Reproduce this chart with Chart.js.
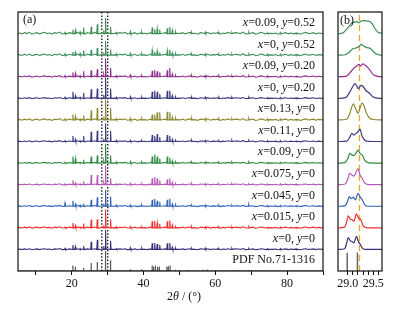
<!DOCTYPE html>
<html>
<head>
<meta charset="utf-8">
<script src="https://cdn.jsdelivr.net/npm/chart.js@4.4.1/dist/chart.umd.min.js"></script>
<style>
html, body { margin: 0; padding: 0; background: #fff; }
#wrap { position: relative; width: 395px; height: 309px; }
#boxA { position: absolute; left: 0; top: 0; width: 330px; height: 309px; }
#boxB { position: absolute; left: 330px; top: 0; width: 65px; height: 309px; }
</style>
</head>
<body>
<div id="wrap">
  <div id="boxA"><canvas id="graphA"></canvas></div>
  <div id="boxB"><canvas id="graphB"></canvas></div>
</div>
<script>
// rows from bottom (0 = PDF card) to top
var rowLabels = ['PDF No.71-1316', 'x=0, y=0', 'x=0.015, y=0', 'x=0.045, y=0', 'x=0.075, y=0', 'x=0.09, y=0',
  'x=0.11, y=0', 'x=0.13, y=0', 'x=0, y=0.20', 'x=0.09, y=0.20', 'x=0, y=0.52', 'x=0.09, y=0.52'];
var rowColors = ['#555555', '#36307a', '#ee3030', '#2f62b8', '#b45ab8', '#2f8a40',
  '#3d3c83', '#8c8a32', '#3b3a7e', '#8e2c8e', '#3a8f5e', '#3f8f55'];

// panel (a): peak positions (2theta) and heights per row (1 = row spacing)
var peakPos = [18.1, 20.3, 21.0, 22.3, 23.3, 25.4, 27.1, 28.9, 29.4, 30.8, 32.4, 36.3, 39.5, 42.4, 43.1,
  43.8, 44.5, 46.6, 47.3, 48.0, 48.9, 53.4, 57.2, 61.0, 64.6, 69.3, 74.5, 78.1, 82.5];
var h1  = [0.05,0.2,0.12,0.04,0.15,0.35,0.45,0.15,0.9,0.4,0.04,0.08,0.06,0.28,0.3,0.25,0.2,0.28,0.3,0.1,0.06,0.05,0.06,0.04,0.05,0.04,0.03,0.04,0.03];
var h2  = [0.04,0.22,0.1,0.04,0.2,0.38,0.4,0.12,0.85,0.4,0.05,0.06,0.05,0.3,0.32,0.22,0.18,0.3,0.35,0.12,0.05,0.06,0.05,0.04,0.05,0.05,0.03,0.04,0.03];
var h3  = [0.15,0.25,0.1,0.05,0.12,0.3,0.42,0.12,0.75,0.45,0.05,0.06,0.06,0.3,0.35,0.25,0.2,0.3,0.35,0.1,0.06,0.05,0.06,0.05,0.05,0.08,0.04,0.04,0.03];
var h4  = [0.04,0.2,0.08,0.04,0.15,0.45,0.45,0.1,0.9,0.3,0.04,0.06,0.05,0.3,0.35,0.3,0.2,0.25,0.3,0.1,0.05,0.06,0.05,0.04,0.05,0.04,0.03,0.04,0.03];
var h5  = [0.04,0.3,0.2,0.04,0.15,0.3,0.35,0.1,0.9,0.35,0.05,0.07,0.05,0.3,0.4,0.3,0.2,0.3,0.25,0.1,0.05,0.05,0.05,0.04,0.05,0.05,0.03,0.04,0.03];
var h6  = [0.04,0.25,0.1,0.04,0.25,0.45,0.5,0.12,0.85,0.5,0.05,0.06,0.05,0.3,0.25,0.35,0.2,0.3,0.25,0.1,0.05,0.06,0.05,0.04,0.06,0.05,0.04,0.04,0.03];
var h7  = [0.05,0.25,0.15,0.05,0.2,0.45,0.55,0.15,0.95,0.55,0.06,0.08,0.07,0.25,0.25,0.35,0.35,0.38,0.35,0.12,0.08,0.08,0.07,0.06,0.06,0.07,0.05,0.05,0.04];
var h8  = [0.05,0.3,0.12,0.05,0.25,0.42,0.45,0.15,0.95,0.45,0.05,0.08,0.06,0.3,0.35,0.3,0.2,0.35,0.35,0.12,0.06,0.06,0.06,0.05,0.05,0.05,0.04,0.04,0.03];
var h9  = [0.05,0.2,0.15,0.05,0.25,0.3,0.35,0.1,0.85,0.4,0.05,0.08,0.06,0.28,0.3,0.25,0.2,0.3,0.4,0.12,0.06,0.06,0.06,0.05,0.05,0.05,0.04,0.04,0.03];
var h10 = [0.06,0.15,0.12,0.08,0.22,0.25,0.33,0.12,0.65,0.25,0.06,0.08,0.07,0.22,0.15,0.18,0.12,0.2,0.25,0.1,0.07,0.06,0.06,0.05,0.06,0.05,0.05,0.05,0.04];
var h11 = [0.06,0.18,0.15,0.08,0.28,0.32,0.43,0.15,0.72,0.3,0.05,0.1,0.08,0.28,0.2,0.22,0.18,0.25,0.3,0.15,0.08,0.06,0.07,0.05,0.05,0.06,0.04,0.05,0.04];
var rowHeights = [null, h1, h2, h3, h4, h5, h6, h7, h8, h9, h10, h11];

// background jitter, one value per 0.7 deg scan step starting at 5.4
var noiseStart = 5.4, noiseStep = 0.7;
var noiseH = [0.02,-0.01,0.03,0.0,0.04,-0.02,0.01,0.03,-0.01,0.02,0.04,0.0,0.02,-0.02,0.03,0.01,0.05,-0.01,0.02,0.0,
  0.03,-0.02,0.01,0.04,0.0,0.02,-0.01,0.03,0.01,-0.02,0.04,0.02,0.0,0.03,-0.01,0.02,0.05,0.0,0.01,-0.02,
  0.03,0.01,0.04,-0.01,0.02,0.0,0.03,-0.02,0.02,0.04,0.01,-0.01,0.03,0.0,0.02,0.05,-0.01,0.01,0.03,0.0,
  0.02,-0.02,0.04,0.01,0.0,0.03,-0.01,0.02,0.04,0.0,0.01,-0.02,0.03,0.02,0.0,0.04,-0.01,0.02,0.01,0.03,
  -0.02,0.02,0.0,0.04,0.01,-0.01,0.03,0.02,0.0,0.05,-0.01,0.02,0.01,0.03,-0.02,0.0,0.04,0.02,-0.01,0.03,
  0.01,0.0,0.02,-0.02,0.04,0.01,0.03,-0.01,0.02,0.0,0.03,0.01,-0.02,0.02,0.04,0.0,0.01,0.03,-0.01,0.02];
var rowNoise = [0, 0.8, 1.0, 0.8, 0.8, 0.8, 0.8, 1.2, 0.8, 1.0, 1.3, 1.4];

// PDF card sticks
var pdfPos = [20.3, 21.0, 23.3, 25.4, 27.1, 29.4, 30.8, 36.3, 39.5, 42.4, 42.8, 43.3, 43.9, 44.4, 46.5, 46.9,
  47.4, 48.9, 52.5, 56.6, 57.7, 60.7, 64.6, 65.6, 69.3, 72.9];
var pdfH = [0.25, 0.2, 0.14, 0.37, 0.42, 0.93, 0.5, 0.08, 0.08, 0.25, 0.2, 0.25, 0.2, 0.2, 0.2, 0.22,
  0.25, 0.06, 0.05, 0.06, 0.07, 0.04, 0.05, 0.04, 0.04, 0.03];

var dotLines = [28.35, 30.0];
var ticksA = [10, 20, 30, 40, 50, 60, 70, 80, 90];
var labelsA = [20, 40, 60, 80];

// panel (b): zoom of the main reflection, [2theta, height] per row
var b1  = [[28.82,0],[28.94,0.03],[28.98,0.3],[29.01,0.55],[29.05,0.4],[29.08,0.37],[29.12,0.3],[29.17,0.6],[29.21,0.35],[29.24,0.25],[29.29,0.05],[29.36,0],[29.67,0]];
var b2  = [[28.82,0],[28.94,0.03],[28.98,0.3],[29.01,0.55],[29.05,0.4],[29.08,0.38],[29.12,0.3],[29.17,0.65],[29.21,0.45],[29.25,0.4],[29.3,0.1],[29.38,0],[29.67,0]];
var b3  = [[28.82,0],[28.95,0.03],[29.0,0.25],[29.03,0.45],[29.07,0.35],[29.11,0.42],[29.15,0.3],[29.2,0.6],[29.25,0.4],[29.28,0.32],[29.33,0.08],[29.4,0],[29.67,0]];
var b4  = [[28.82,0],[28.95,0.03],[29.0,0.25],[29.04,0.53],[29.08,0.45],[29.12,0.4],[29.16,0.55],[29.2,0.75],[29.24,0.45],[29.28,0.3],[29.34,0.06],[29.42,0],[29.67,0]];
var b5  = [[28.82,0],[28.95,0.03],[29.0,0.2],[29.04,0.45],[29.08,0.38],[29.12,0.35],[29.17,0.5],[29.2,0.6],[29.24,0.45],[29.29,0.35],[29.34,0.1],[29.42,0.01],[29.67,0]];
var b6  = [[28.82,0],[28.98,0.02],[29.04,0.2],[29.08,0.38],[29.12,0.3],[29.15,0.35],[29.2,0.45],[29.24,0.57],[29.28,0.25],[29.34,0.05],[29.4,0.01],[29.67,0]];
var b7  = [[28.82,0],[28.98,0.03],[29.04,0.3],[29.08,0.6],[29.11,0.75],[29.14,0.6],[29.17,0.45],[29.2,0.3],[29.24,0.55],[29.28,0.78],[29.32,0.65],[29.36,0.35],[29.42,0.1],[29.5,0.02],[29.67,0]];
var b8  = [[28.82,0],[28.96,0.03],[29.03,0.25],[29.1,0.55],[29.14,0.68],[29.18,0.55],[29.21,0.45],[29.26,0.6],[29.3,0.55],[29.36,0.35],[29.42,0.25],[29.5,0.06],[29.58,0.01],[29.67,0]];
var b9  = [[28.82,0],[28.98,0.03],[29.05,0.2],[29.12,0.4],[29.18,0.5],[29.22,0.58],[29.25,0.5],[29.3,0.6],[29.36,0.5],[29.42,0.35],[29.5,0.1],[29.58,0.02],[29.67,0]];
var b10 = [[28.82,0],[28.95,0.02],[29.02,0.12],[29.1,0.3],[29.16,0.33],[29.22,0.4],[29.27,0.5],[29.31,0.42],[29.38,0.35],[29.45,0.3],[29.52,0.12],[29.58,0.03],[29.67,0]];
var b11 = [[28.82,0],[28.9,0.02],[28.96,0.15],[29.03,0.35],[29.08,0.5],[29.12,0.52],[29.18,0.55],[29.22,0.5],[29.26,0.58],[29.32,0.6],[29.38,0.58],[29.44,0.55],[29.48,0.45],[29.54,0.2],[29.6,0.05],[29.67,0.02]];
var rowZoom = [null, b1, b2, b3, b4, b5, b6, b7, b8, b9, b10, b11];
var pdfZoomPos = [28.99, 29.19];
var pdfZoomH = [0.85, 0.85];
var markLine = 29.23;
var ticksB = [29.0, 29.1, 29.2, 29.3, 29.4, 29.5, 29.6];
var labelsB = [29.0, 29.5];

var serif = '"Liberation Serif", "Times New Roman", serif';

function nearPeak(x) {
  for (var i = 0; i < peakPos.length; i++) {
    if (Math.abs(peakPos[i] - x) < 0.3) return true;
  }
  return false;
}

function traceA(row) {
  var hs = rowHeights[row], w = 0.14, pts = [{x: 5, y: row}, {x: 90, y: row}];
  peakPos.forEach(function (p, i) {
    pts.push({x: p - w, y: row}, {x: p, y: row + hs[i]}, {x: p + w, y: row});
  });
  noiseH.forEach(function (v, i) {
    var x = noiseStart + i * noiseStep;
    if (!nearPeak(x)) pts.push({x: x, y: row + v * rowNoise[row]});
  });
  pts.sort(function (a, b) { return a.x - b.x; });
  return pts;
}

function sticksPdf() {
  var pts = [{x: 5, y: 0}];
  pdfPos.forEach(function (p, i) {
    pts.push({x: p, y: 0}, {x: p, y: pdfH[i]}, {x: p, y: 0});
  });
  pts.push({x: 90, y: 0});
  return pts;
}

var datasetsA = [];
for (var r = 1; r < rowLabels.length; r++) {
  datasetsA.push({data: traceA(r), borderColor: rowColors[r], borderWidth: 1.1, pointRadius: 0, tension: 0});
}
datasetsA.push({data: sticksPdf(), borderColor: rowColors[0], borderWidth: 1.2, pointRadius: 0, tension: 0});
dotLines.forEach(function (v) {
  datasetsA.push({data: [{x: v, y: 0}, {x: v, y: 12}], borderColor: '#111', borderWidth: 1.3,
    borderDash: [1.5, 1.8], pointRadius: 0});
});

var datasetsB = [];
for (var k = 1; k < rowLabels.length; k++) {
  datasetsB.push({
    data: rowZoom[k].map(function (d) { return {x: d[0], y: k + d[1]}; }),
    borderColor: rowColors[k], borderWidth: 1.2, pointRadius: 0, cubicInterpolationMode: 'monotone'
  });
}
pdfZoomPos.forEach(function (p, i) {
  datasetsB.push({data: [{x: p, y: 0}, {x: p, y: pdfZoomH[i]}], borderColor: '#666', borderWidth: 1.5, pointRadius: 0});
});
datasetsB.push({data: [{x: markLine, y: 0}, {x: markLine, y: 12}], borderColor: '#f2a51f', borderWidth: 1.3,
  borderDash: [6, 4], pointRadius: 0});

// frame around the plotting area
var framePlugin = {
  id: 'frame',
  afterDraw: function (chart) {
    var ctx = chart.ctx, a = chart.chartArea;
    ctx.save();
    ctx.strokeStyle = '#111';
    ctx.lineWidth = 1.2;
    ctx.strokeRect(a.left, a.top, a.right - a.left, a.bottom - a.top);
    ctx.restore();
  }
};

// text with italic x / y / theta
function drawRich(ctx, parts, x, y, align) {
  var total = 0;
  parts.forEach(function (p) {
    ctx.font = (p[1] ? 'italic ' : '') + '12px ' + serif;
    total += ctx.measureText(p[0]).width;
  });
  var cx = align === 'right' ? x - total : (align === 'center' ? x - total / 2 : x);
  parts.forEach(function (p) {
    ctx.font = (p[1] ? 'italic ' : '') + '12px ' + serif;
    ctx.fillText(p[0], cx, y);
    cx += ctx.measureText(p[0]).width;
  });
}

function splitLabel(s) {
  if (s.indexOf('PDF') === 0) return [[s, false]];
  return s.split(/([xy])/).filter(function (t) { return t !== ''; }).map(function (t) {
    return [t, t === 'x' || t === 'y'];
  });
}

var labelsPlugin = {
  id: 'rowLabels',
  afterDraw: function (chart) {
    var ctx = chart.ctx, a = chart.chartArea, ys = chart.scales.y;
    ctx.save();
    ctx.fillStyle = '#111';
    ctx.textBaseline = 'middle';
    rowLabels.forEach(function (lab, i) {
      drawRich(ctx, splitLabel(lab), a.right - 8, ys.getPixelForValue(i + 0.5), 'right');
    });
    drawRich(ctx, [['(a)', false]], a.left + 5, a.top + 8, 'left');
    drawRich(ctx, [['2', false], ['\u03b8', true], [' / (\u00b0)', false]], 184, 297, 'center');
    ctx.restore();
  }
};

var tagPlugin = {
  id: 'tagB',
  afterDraw: function (chart) {
    var ctx = chart.ctx, a = chart.chartArea;
    ctx.save();
    ctx.fillStyle = '#111';
    ctx.textBaseline = 'middle';
    drawRich(ctx, [['(b)', false]], a.left + 2, a.top + 9, 'left');
    ctx.restore();
  }
};

function xAxis(min, max, tickVals, labelVals) {
  return {
    type: 'linear', min: min, max: max,
    afterBuildTicks: function (axis) { axis.ticks = tickVals.map(function (v) { return {value: v}; }); },
    afterFit: function (axis) { axis.height = 38; },
    border: {display: false},
    grid: {drawOnChartArea: false, drawTicks: true, tickLength: 4, tickColor: '#111', lineWidth: 1},
    ticks: {
      color: '#111', padding: 2, maxRotation: 0, autoSkip: false,
      font: {family: serif, size: 12},
      callback: function (v) {
        for (var i = 0; i < labelVals.length; i++) {
          if (Math.abs(labelVals[i] - v) < 1e-6) return max < 40 ? v.toFixed(1) : String(v);
        }
        return '';
      }
    }
  };
}

var commonOpts = function (xs, pad) {
  return {
    responsive: true, maintainAspectRatio: false, animation: false,
    layout: {padding: pad},
    plugins: {legend: {display: false}, tooltip: {enabled: false}},
    scales: {x: xs, y: {display: false, min: 0, max: 12}}
  };
};

var graphA = new Chart(document.getElementById('graphA').getContext('2d'), {
  type: 'line',
  data: {datasets: datasetsA},
  options: commonOpts(xAxis(5, 90, ticksA, labelsA), {left: 18, right: 7, top: 12, bottom: 0}),
  plugins: [framePlugin, labelsPlugin]
});

var graphB = new Chart(document.getElementById('graphB').getContext('2d'), {
  type: 'line',
  data: {datasets: datasetsB},
  options: commonOpts(xAxis(28.81, 29.67, ticksB, labelsB), {left: 8, right: 13, top: 12, bottom: 0}),
  plugins: [framePlugin, tagPlugin]
});
</script>
</body>
</html>
